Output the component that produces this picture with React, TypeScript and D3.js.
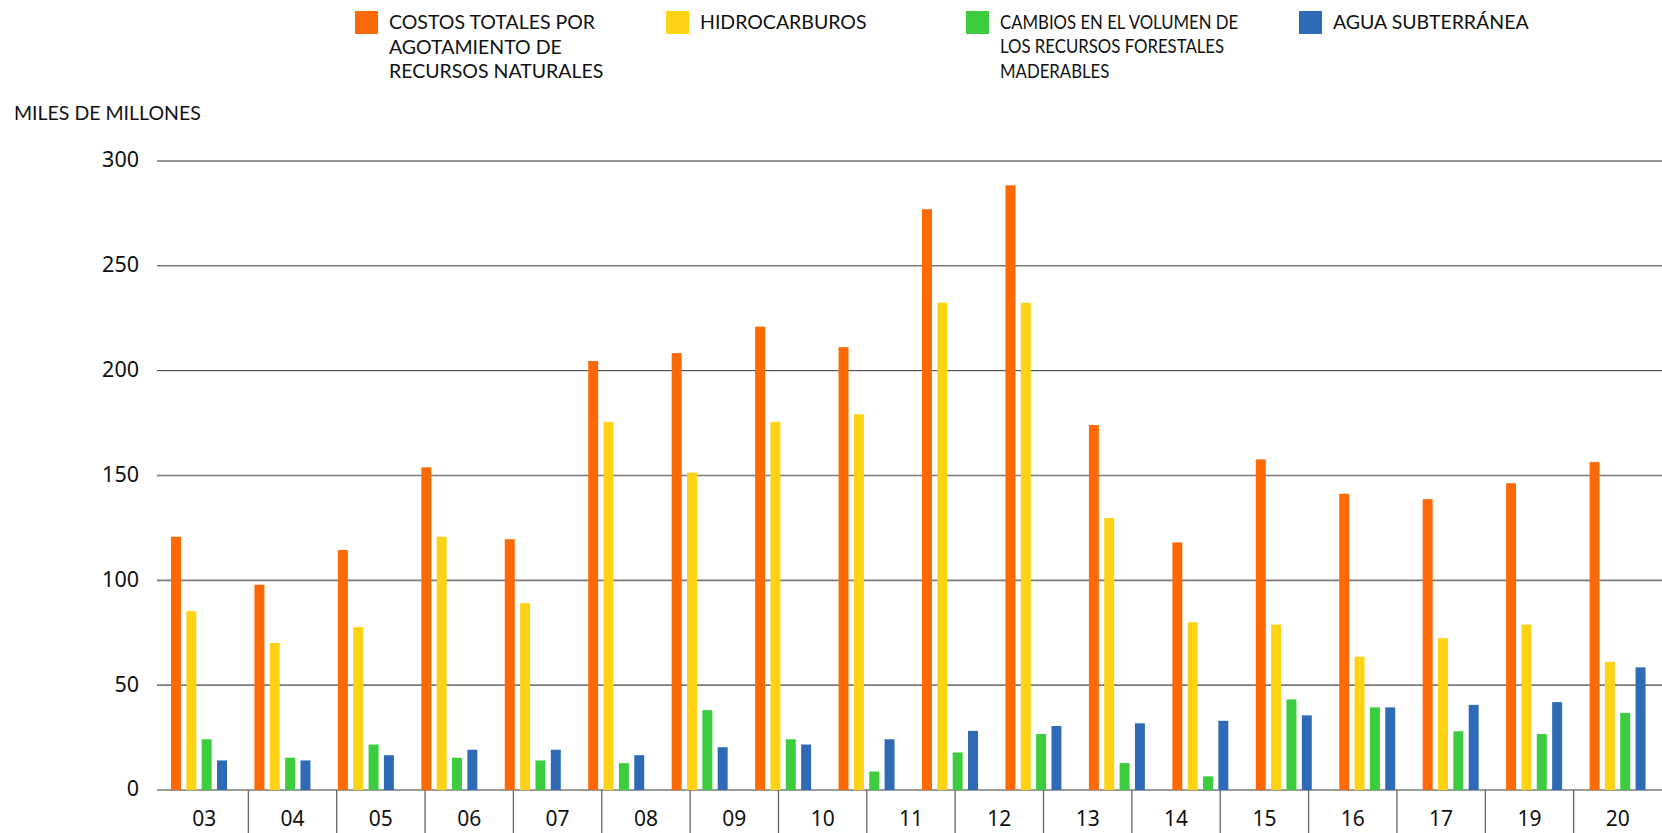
import * as d3 from "d3";

// bars: 18 years of data (2003-2020)
const years = ["03", "04", "05", "06", "07", "08", "09", "10", "11", "12", "13", "14", "15", "16", "17", "18", "19", "20"];
// the axis of the original only has 17 labels (18 is missing)
const axisLabels = ["03", "04", "05", "06", "07", "08", "09", "10", "11", "12", "13", "14", "15", "16", "17", "19", "20"];

const costosTotales = [120.8, 97.9, 114.5, 153.9, 119.6, 204.6, 208.4, 221, 211.2, 277, 288.4, 174.1, 118.1, 157.7, 141.3, 138.7, 146.3, 156.4];
const hidrocarburos = [85.3, 70.1, 77.7, 120.8, 89.1, 175.6, 151.4, 175.6, 179.2, 232.4, 232.4, 129.7, 80, 78.9, 63.6, 72.4, 78.9, 61.1];
const forestales = [24.2, 15.4, 21.7, 15.4, 14.1, 12.8, 38.1, 24.2, 8.8, 17.9, 26.7, 12.8, 6.5, 43.2, 39.4, 28, 26.7, 36.8];
const aguaSubterranea = [14.1, 14.1, 16.6, 19.2, 19.2, 16.6, 20.4, 21.7, 24.2, 28.2, 30.5, 31.8, 33, 35.6, 39.4, 40.6, 41.9, 58.5];

const seriesNames = [
  ["COSTOS TOTALES POR", "AGOTAMIENTO DE", "RECURSOS NATURALES"],
  ["HIDROCARBUROS"],
  ["CAMBIOS EN EL VOLUMEN DE", "LOS RECURSOS FORESTALES", "MADERABLES"],
  ["AGUA SUBTERRÁNEA"],
];
const colors = ["#ff6905", "#ffd214", "#3ccd3e", "#2f6ab8"];
const yTicks = [0, 50, 100, 150, 200, 250, 300];

const W = 1662;
const H = 833;
const labelFont = "Lato, 'Open Sans', sans-serif";
const numFont = "'Noto Sans', 'Open Sans', sans-serif";

export default function App() {
  const series = [costosTotales, hidrocarburos, forestales, aguaSubterranea];
  const y = d3.scaleLinear().domain([0, 300]).range([790, 161]);
  const xBars = d3.scaleBand().domain(years).range([160, 1662]);
  const xInner = d3
    .scaleBand()
    .domain(d3.range(4).map(String))
    .range([11, 67])
    .paddingInner(0.35);
  const xLabels = d3.scaleBand().domain(axisLabels).range([160, 1662]);
  const legendX = [355, 666, 966, 1299];
  // the green entry is set tighter in the original
  const legendSqueeze = [1, 1, 0.86, 1];

  return (
    <svg width={W} height={H} style={{ position: "absolute", left: 0, top: 0, background: "#fff" }}>
      {/* legend */}
      {seriesNames.map((lines, i) => (
        <g key={i} transform={`translate(${legendX[i]},11)`}>
          <rect width={23} height={23} fill={colors[i]} />
          <g transform={`translate(34,0) scale(${legendSqueeze[i]},1)`}>
            {lines.map((t, j) => (
              <text
                key={j}
                x={0}
                y={18 + j * 24.5}
                fontFamily={labelFont}
                fontSize={19.5}
                fill="#111"
              >
                {t}
              </text>
            ))}
          </g>
        </g>
      ))}

      <text x={14} y={120} fontFamily={labelFont} fontSize={19.5} fill="#111">
        MILES DE MILLONES
      </text>

      {/* grid */}
      {yTicks.map((t) => (
        <g key={t}>
          <line
            x1={157}
            x2={1662}
            y1={y(t)}
            y2={y(t)}
            stroke={t >= 200 ? "#333" : "#7a7a7a"}
            strokeWidth={t >= 200 ? 1 : 1.6}
          />
          <text
            x={139}
            y={y(t)}
            dy="0.3em"
            textAnchor="end"
            fontFamily={numFont}
            fontSize={21.5}
            fill="#111"
          >
            {t}
          </text>
        </g>
      ))}

      {/* bars */}
      {years.map((yr, gi) => (
        <g key={yr} transform={`translate(${xBars(yr)},0)`}>
          {series.map((s, si) => (
            <rect
              key={si}
              x={xInner(String(si))}
              y={y(s[gi])}
              width={xInner.bandwidth()}
              height={y(0) - y(s[gi])}
              fill={colors[si]}
            />
          ))}
        </g>
      ))}

      {/* category axis */}
      {axisLabels.map((lb, i) => (
        <g key={lb}>
          {i > 0 && (
            <line
              x1={xLabels(lb)}
              x2={xLabels(lb)}
              y1={790}
              y2={833}
              stroke="#666"
              strokeWidth={1.3}
            />
          )}
          <text
            x={(xLabels(lb) as number) + xLabels.bandwidth() / 2}
            y={819}
            dy="0.32em"
            textAnchor="middle"
            fontFamily={numFont}
            fontSize={21}
            fill="#111"
          >
            {lb}
          </text>
        </g>
      ))}
    </svg>
  );
}
